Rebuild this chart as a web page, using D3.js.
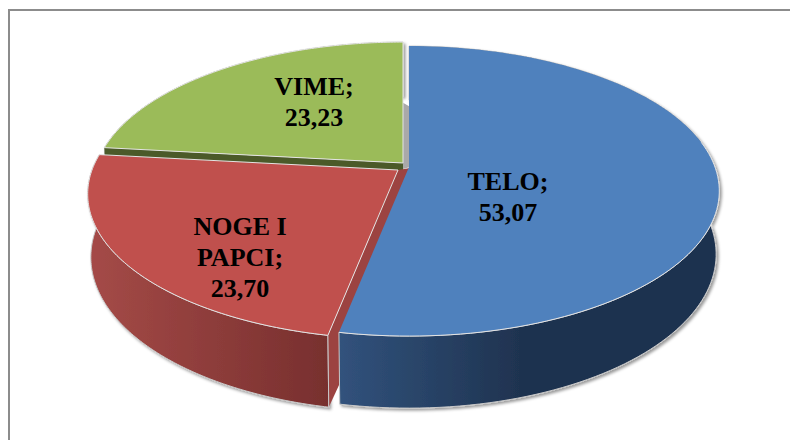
<!DOCTYPE html>
<html>
<head>
<meta charset="utf-8">
<script src="https://cdn.jsdelivr.net/npm/d3@7"></script>
<style>
  html, body { margin: 0; padding: 0; background: #fff; }
  svg { display: block; }
  .label { font-family: "Liberation Serif", serif; font-weight: bold; font-size: 26px; text-anchor: middle; fill: #000; }
</style>
</head>
<body>
<svg id="chart" width="790" height="440"></svg>
<script>
const categories = ['TELO', 'NOGE I PAPCI', 'VIME'];
const values = [53.07, 23.7, 23.23];
const valueLabels = ['53,07', '23,70', '23,23'];

const width = 790;
const height = 440;

// look of each slice, in the same order as categories
const topColors = ['#4f81bd', '#c0504d', '#9bbb59'];
const sideStops = [['#31527c', '#1f3350'], ['#a44a47', '#772f2e'], ['#4b5a29', '#4b5a29']];
const wallColors = ['#1f3350', '#9c4341', '#4b5a29'];
const apexes = [[409, 167], [398, 170], [403, 163]];
const labelLines = [['TELO;', valueLabels[0]], ['NOGE I', 'PAPCI;', valueLabels[1]], ['VIME;', valueLabels[2]]];
const labelPos = [[508, 190], [240, 235], [314, 95]];
const lineGap = 31;

// projection of the tilted disc
const rx = 306;
const ry = 141;
const persp = 0.166;
const wallH = 62.5;
const wallPersp = 0.01;

const project = (angle, r, z, apex) => {
  const u = r * Math.sin(angle);
  const v = -r * Math.cos(angle);
  const k = 1 / (1 - persp * v + wallPersp * z);
  return [apex[0] + rx * u * k, apex[1] + (ry * v + wallH * z) * k];
};

const svg = d3.select('#chart');
const line = d3.line();

const arcs = d3.pie().sort(null).value((d) => d)(values);

const rim = (d, z, apex) =>
  d3.range(0, 121).map((i) => project(d.startAngle + ((d.endAngle - d.startAngle) * i) / 120, 1, z, apex));

const defs = svg.append('defs');
const shadow = defs.append('filter').attr('id', 'soft').attr('x', '-5%').attr('y', '-5%').attr('width', '110%').attr('height', '110%');
shadow.append('feDropShadow').attr('dx', 2).attr('dy', 2).attr('stdDeviation', 1.5).attr('flood-color', '#000').attr('flood-opacity', 0.4);

const sideExtent = [[340, 520], [93, 330], [0, 790]];
sideStops.forEach((stops, i) => {
  const g = defs.append('linearGradient').attr('id', `side${i}`).attr('gradientUnits', 'userSpaceOnUse')
    .attr('x1', sideExtent[i][0]).attr('x2', sideExtent[i][1]).attr('y1', 0).attr('y2', 0);
  g.append('stop').attr('offset', 0).attr('stop-color', stops[0]);
  g.append('stop').attr('offset', 1).attr('stop-color', stops[1]);
});

// frame is only open lines here, the picture crops the rest
svg.append('path')
  .attr('d', line([[9, height], [9, 10], [width, 10]]))
  .attr('fill', 'none')
  .attr('stroke', '#8c8c8c')
  .attr('stroke-width', 2);

// back to front: green, then red, then blue
const order = [2, 1, 0];
const pie = svg.append('g').attr('class', 'pie');

order.forEach((i) => {
  const d = arcs[i];
  const apex = apexes[i];
  const g = pie.append('g').attr('class', categories[i]);

  if (i === 2) {
    // grey shade next to the green slice's upright edge
    const top = project(d.endAngle, 0.46, 0, apex);
    g.append('path')
      .attr('d', line([top, [top[0] + 7, top[1] + 4], [top[0] + 7, apex[1] + 4], [apex[0], apex[1] + 6]]) + 'Z')
      .attr('fill', '#a9a9a9');
  }

  const sideTop = rim(d, 0, apex);
  const sideBottom = rim(d, 1, apex).reverse();
  g.append('path')
    .attr('d', line(sideTop.concat(sideBottom)) + 'Z')
    .attr('fill', `url(#side${i})`)
    .attr('stroke', '#c8c8c8')
    .attr('stroke-width', 1)
    .attr('filter', 'url(#soft)');

  // cut face towards the viewer, the blue one faces away
  if (i !== 0) {
    const corner = project(d.startAngle, 1, 0, apex);
    const cornerLow = project(d.startAngle, 1, 1, apex);
    const apexLow = project(0, 0, 1, apex);
    // red face runs on behind the blue slice, so it fills the gap at the centre
    const reach = i === 1 ? 12 : 0;
    g.append('path')
      .attr('d', line([[apex[0] + reach, apex[1] - (reach ? 2 : 0)], apex, corner, cornerLow, [apexLow[0] + reach, apexLow[1]]]) + 'Z')
      .attr('fill', wallColors[i]);
    if (i === 1) {
      g.append('path')
        .attr('d', line([corner, cornerLow]))
        .attr('stroke', '#c8c8c8')
        .attr('stroke-width', 1);
    }
  }

  const topRim = rim(d, 0, apex);
  g.append('path')
    .attr('d', line([apex].concat(topRim)) + 'Z')
    .attr('fill', topColors[i]);

  // only the front rim catches the light on the big slice
  g.append('path')
    .attr('d', i === 0 ? line(topRim.slice(50)) : line([apex].concat(topRim)) + 'Z')
    .attr('fill', 'none')
    .attr('stroke', '#e4e4e4')
    .attr('stroke-width', 1);
});

svg.append('g').attr('class', 'labels')
  .selectAll('text')
  .data(categories)
  .join('text')
  .attr('class', 'label')
  .each(function (_, i) {
    d3.select(this)
      .selectAll('tspan')
      .data(labelLines[i])
      .join('tspan')
      .attr('x', labelPos[i][0])
      .attr('y', (_, j) => labelPos[i][1] + j * lineGap)
      .text((t) => t);
  });
</script>
</body>
</html>
